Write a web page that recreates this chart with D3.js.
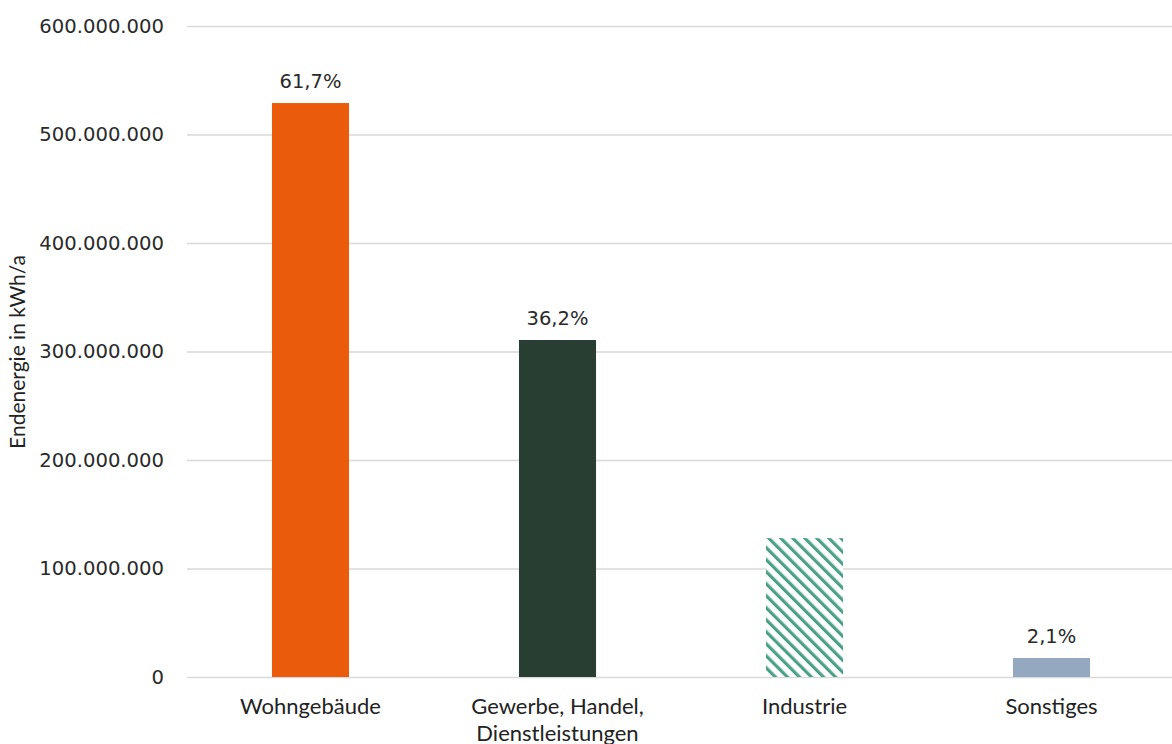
<!DOCTYPE html>
<html><head><meta charset="utf-8">
<script src="https://cdn.jsdelivr.net/npm/d3@7"></script>
<style>body{margin:0;background:#fff}svg{display:block}</style>
</head><body>
<svg id="c" width="1172" height="744"></svg>
<script>
const categories = [["Wohngebäude"], ["Gewerbe, Handel,", "Dienstleistungen"], ["Industrie"], ["Sonstiges"]];
const values = [529000000, 310600000, 128000000, 17500000];
const percentLabels = ["61,7%", "36,2%", "", "2,1%"];
const colors = ["#EB5B0C", "#293E33", "hatch", "#94A8C0"];
const yTicks = [0, 100000000, 200000000, 300000000, 400000000, 500000000, 600000000];
const yTitle = "Endenergie in kWh/a";

const svg = d3.select("#c");
const defs = svg.append("defs");
const pat = defs.append("pattern").attr("id","hatch").attr("patternUnits","userSpaceOnUse")
  .attr("width",8.5).attr("height",8.5).attr("patternTransform","rotate(-45)");
pat.append("rect").attr("width",8.5).attr("height",8.5).attr("fill","#fff");
pat.append("rect").attr("x",0).attr("y",0).attr("width",3.2).attr("height",8.5).attr("fill","#4BA088");

const x = d3.scaleBand().domain(d3.range(categories.length)).range([187,1175]).paddingInner(0.688).paddingOuter(0.344);
const y = d3.scaleLinear().domain([0,600000000]).range([677,26]);
const fmt = v => d3.format(",")(v).replace(/,/g,".");

const yAxis = svg.append("g").attr("transform","translate(187,0)")
  .call(d3.axisLeft(y).tickValues(yTicks).tickFormat(fmt).tickSize(-985).tickPadding(23));
yAxis.select(".domain").remove();
yAxis.selectAll(".tick line").attr("stroke","#d9d9d9").attr("stroke-width",1.5);
yAxis.selectAll(".tick text").attr("fill","#2a2a2a").style("font-family","DejaVu Sans").style("font-size","19.6px");

svg.selectAll("rect.bar").data(values).enter().append("rect").attr("class","bar")
  .attr("x",(d,i)=>x(i)).attr("width",x.bandwidth())
  .attr("y",d=>y(d)).attr("height",d=>y(0)-y(d))
  .attr("fill",(d,i)=>colors[i]==="hatch"?"url(#hatch)":colors[i]);

svg.selectAll("text.pct").data(values).enter().append("text").attr("class","pct")
  .attr("x",(d,i)=>x(i)+x.bandwidth()/2).attr("y",d=>y(d)-15)
  .attr("text-anchor","middle").attr("fill","#2a2a2a")
  .style("font-family","DejaVu Sans").style("font-size","19.5px")
  .text((d,i)=>percentLabels[i]);

const cl = svg.selectAll("text.cat").data(categories).enter().append("text").attr("class","cat")
  .attr("text-anchor","middle").attr("fill","#222")
  .style("font-family","Lato").style("font-size","22px");
cl.each(function(lines,i){
  const t = d3.select(this);
  lines.forEach((l,j)=>t.append("tspan").attr("x",x(i)+x.bandwidth()/2).attr("y",714+j*27).text(l));
});

svg.append("text").attr("transform","translate(25,352) rotate(-90)").attr("text-anchor","middle")
  .attr("fill","#222").style("font-family","Lato").style("font-size","21px").text(yTitle);
</script>
</body></html>
